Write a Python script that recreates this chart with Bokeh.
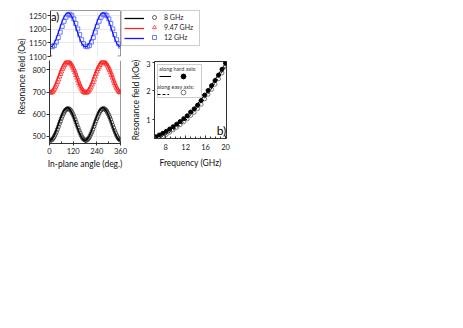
from math import pi
import numpy as np
from bokeh.plotting import figure
from bokeh.layouts import row, column
from bokeh.models import Range1d, FixedTicker, Label, Span, Legend, LegendItem
from bokeh.core.properties import value
from bokeh.embed import file_html
from bokeh.resources import INLINE

FONT = "Lato"

# ---------------- panel a data ----------------
angle_fit = [0, 10, 20, 30, 40, 50, 60, 70, 80, 90, 100, 110, 120, 130, 140, 150, 160, 170, 180,
             190, 200, 210, 220, 230, 240, 250, 260, 270, 280, 290, 300, 310, 320, 330, 340, 350, 360]
fit_8ghz = [480, 485, 498, 518, 542, 568, 592, 612, 625, 630, 625, 612, 592, 568, 542, 518, 498, 485, 480,
            485, 498, 518, 542, 568, 592, 612, 625, 630, 625, 612, 592, 568, 542, 518, 498, 485, 480]
fit_947ghz = [700, 704, 717, 736, 760, 784, 808, 827, 840, 844, 840, 827, 808, 784, 760, 736, 717, 704, 700,
              704, 717, 736, 760, 784, 808, 827, 840, 844, 840, 827, 808, 784, 760, 736, 717, 704, 700]
fit_12ghz = [1135, 1139, 1150, 1167, 1188, 1209, 1230, 1247, 1258, 1262, 1258, 1247, 1230, 1209, 1188, 1167, 1150, 1139, 1135,
             1139, 1150, 1167, 1188, 1209, 1230, 1247, 1258, 1262, 1258, 1247, 1230, 1209, 1188, 1167, 1150, 1139, 1135]

angle_pts = [0, 5, 10, 15, 20, 25, 30, 35, 40, 45, 50, 55, 60, 65, 70, 75, 80, 85, 90,
             95, 100, 105, 110, 115, 120, 125, 130, 135, 140, 145, 150, 155, 160, 165, 170, 175, 180,
             185, 190, 195, 200, 205, 210, 215, 220, 225, 230, 235, 240, 245, 250, 255, 260, 265, 270,
             275, 280, 285, 290, 295, 300, 305, 310, 315, 320, 325, 330, 335, 340, 345, 350, 355, 360]
pts_8ghz = [482, 481, 483, 486, 492, 500, 509, 519, 531, 543, 556, 568, 580, 591, 601, 610, 617, 621, 624,
            625, 623, 620, 614, 606, 597, 587, 575, 563, 550, 538, 526, 515, 505, 496, 489, 485, 482,
            481, 483, 487, 492, 500, 510, 519, 531, 544, 556, 568, 580, 590, 601, 610, 617, 622, 624,
            625, 623, 619, 614, 606, 597, 587, 576, 563, 550, 538, 526, 515, 505, 496, 489, 485, 482]
pts_947ghz = [698, 697, 699, 702, 708, 715, 724, 734, 745, 757, 770, 782, 793, 804, 814, 822, 829, 834, 836,
              837, 835, 832, 826, 819, 810, 800, 789, 777, 765, 752, 741, 730, 720, 712, 705, 700, 698,
              697, 699, 702, 708, 715, 724, 734, 745, 757, 770, 782, 793, 804, 814, 822, 829, 834, 836,
              837, 835, 832, 826, 819, 810, 800, 789, 777, 765, 752, 741, 730, 720, 712, 705, 700, 698]
angle_sq = [0, 10, 20, 30, 40, 50, 60, 70, 80, 90, 100, 110, 120, 130, 140, 150, 160, 170, 180,
            190, 200, 210, 220, 230, 240, 250, 260, 270, 280, 290, 300, 310, 320, 330, 340, 350, 360]
pts_12ghz = [1138, 1136, 1141, 1153, 1170, 1190, 1211, 1230, 1245, 1254, 1256, 1251, 1239, 1222, 1202, 1181, 1162, 1147, 1138,
             1136, 1141, 1153, 1170, 1190, 1211, 1230, 1245, 1254, 1256, 1251, 1239, 1222, 1202, 1181, 1162, 1147, 1138]

legend_labels = ["8 GHz", "9.47 GHz", "12 GHz"]
ticks_a_x = [0, 120, 240, 360]
minor_a_x = [60, 180, 300]
ticks_a_top = [1100, 1150, 1200, 1250]
ticks_a_bot = [500, 600, 700, 800]

# ---------------- panel b data ----------------
freq_pts = [6.0, 6.7, 7.4, 8.1, 8.8, 9.5, 10.2, 10.9, 11.6, 12.3, 13.0, 13.7, 14.4, 15.1, 15.8,
            16.5, 17.2, 17.9, 18.6, 19.3, 20.0]
hard_pts = [0.40, 0.46, 0.52, 0.59, 0.67, 0.75, 0.84, 0.93, 1.03, 1.13, 1.26, 1.37, 1.50, 1.66, 1.85,
            2.01, 2.18, 2.36, 2.55, 2.75, 2.96]
easy_pts = [0.29, 0.35, 0.41, 0.48, 0.56, 0.64, 0.73, 0.82, 0.92, 1.02, 1.14, 1.25, 1.38, 1.53, 1.72,
            1.88, 2.05, 2.23, 2.42, 2.62, 2.84]
freq_fit = [6, 7, 8, 9, 10, 11, 12, 13, 14, 15, 16, 17, 18, 19, 20]
hard_fit = [0.40, 0.49, 0.58, 0.69, 0.80, 0.93, 1.08, 1.27, 1.47, 1.68, 1.90, 2.15, 2.42, 2.69, 2.96]
easy_fit = [0.29, 0.38, 0.47, 0.58, 0.69, 0.82, 0.97, 1.15, 1.35, 1.56, 1.78, 2.03, 2.30, 2.57, 2.84]
ticks_b_x = [8, 12, 16, 20]
minor_b_x = [6, 7, 9, 10, 11, 13, 14, 15, 17, 18, 19]
ticks_b_y = [1, 2, 3]
minor_b_y = [0.5, 1.5, 2.5]

AX = "#333333"
GRID = "#e4e4e4"
BLACK = "#000000"
RED_L = "#ff1f1f"
RED_M = "#ff2a2a"
BLUE_L = "#1414ff"
BLUE_M = "#4a5cff"
NAN = np.array([np.nan])  # legend-only renderers: one hidden row so the legend glyph is drawn


def base_fig(**kw):
    p = figure(output_backend="svg", toolbar_location=None, **kw)
    p.outline_line_color = None
    p.background_fill_color = "white"
    p.border_fill_color = "white"
    return p


def style_axis(ax):
    ax.axis_line_color = AX
    ax.axis_line_width = 1
    ax.major_tick_line_color = AX
    ax.minor_tick_line_color = AX
    ax.major_label_text_font = FONT
    ax.major_label_text_font_size = "7.5px"
    ax.major_label_text_color = "#222222"
    ax.axis_label_text_font = FONT
    ax.axis_label_text_font_size = "8.5px"
    ax.axis_label_text_font_style = "normal"
    ax.axis_label_text_color = "#111111"


# ---------------- y label for panel a ----------------
p_lab = base_fig(width=26, height=172, x_range=Range1d(0, 26), y_range=Range1d(0, 172),
                 x_axis_location=None, y_axis_location=None, min_border=0)
p_lab.xgrid.visible = False
p_lab.ygrid.visible = False
p_lab.add_layout(Label(x=21.5, y=96, text="Resonance field (Oe)", angle=pi / 2,
                       text_align="center", text_baseline="middle", text_font=FONT,
                       text_font_size="8.5px", text_color="#111111"))

# ---------------- panel a, upper segment ----------------
p_top = base_fig(width=95, height=60, x_range=Range1d(0, 360), y_range=Range1d(1100, 1270),
                 x_axis_location=None, min_border_left=23, min_border_right=1,
                 min_border_top=10, min_border_bottom=4)
p_top.xgrid.ticker = FixedTicker(ticks=[120, 240])
for g in (p_top.xgrid, p_top.ygrid):
    g.grid_line_color = GRID
    g.grid_line_width = 0.8
ya = p_top.yaxis[0]
ya.ticker = FixedTicker(ticks=ticks_a_top)
style_axis(ya)
ya.major_tick_out = 3
ya.major_tick_in = 0
ya.major_label_standoff = 1

p_top.scatter(angle_sq, pts_12ghz, marker="square", size=4, fill_color=None,
              line_color=BLUE_M, line_width=0.8)
p_top.line(angle_fit, fit_12ghz, line_color=BLUE_L, line_width=1.2)

p_top.add_layout(Span(location=1270, dimension="width", line_color=AX, line_width=1))
p_top.add_layout(Span(location=360, dimension="height", line_color=AX, line_width=1))
p_top.add_layout(Label(x=0, y=1100, text="≈", angle=1.2, text_align="center",
                       text_baseline="middle", text_font_size="8px", text_color=AX))
p_top.add_layout(Label(x=350, y=1100, text="≈", angle=1.2, text_align="center",
                       text_baseline="middle", text_font_size="7px", text_color=AX))
p_top.add_layout(Label(x=3, y=1271, text="a)", text_baseline="top", text_font=FONT,
                       text_font_size="11px", text_color="black"))

# ---------------- legend for panel a ----------------
p_leg = base_fig(width=79, height=60, x_range=Range1d(0, 1), y_range=Range1d(0, 1),
                 x_axis_location=None, y_axis_location=None, min_border_left=0,
                 min_border_right=0, min_border_top=10, min_border_bottom=4)
p_leg.xgrid.visible = False
p_leg.ygrid.visible = False
lg_l8 = p_leg.line(x=NAN, y=NAN, line_color=BLACK, line_width=1.3)
lg_l9 = p_leg.line(x=NAN, y=NAN, line_color=RED_L, line_width=1.3)
lg_l12 = p_leg.line(x=NAN, y=NAN, line_color=BLUE_L, line_width=1.3)
lg_m8 = p_leg.scatter(x=NAN, y=NAN, marker="circle", fill_color=None, line_color="#333333", line_width=0.8)
lg_m9 = p_leg.scatter(x=NAN, y=NAN, marker="triangle", fill_color=None, line_color=RED_M, line_width=0.8)
lg_m12 = p_leg.scatter(x=NAN, y=NAN, marker="square", fill_color=None, line_color=BLUE_M, line_width=0.8)

legL = Legend(items=[LegendItem(label=value(" "), renderers=[r]) for r in (lg_l8, lg_l9, lg_l12)],
              location="top_left", glyph_width=20, glyph_height=10, label_height=10, label_width=53,
              label_standoff=0, spacing=0, padding=2, margin=0,
              border_line_color="#999999", border_line_width=1,
              background_fill_color="white", background_fill_alpha=1,
              label_text_font=FONT, label_text_font_size="7px")
legM = Legend(items=[LegendItem(label=value(t), renderers=[r])
                     for t, r in zip(legend_labels, (lg_m8, lg_m9, lg_m12))],
              location="top_right", glyph_width=10, glyph_height=10, label_height=10, label_width=34,
              label_standoff=5, spacing=0, padding=0, margin=2,
              border_line_color=None, background_fill_alpha=0,
              label_text_font=FONT, label_text_font_size="7px", label_text_color="#222222")
p_leg.add_layout(legL)
p_leg.add_layout(legM)

# ---------------- panel a, lower segment ----------------
p_bot = base_fig(width=102, height=112, x_range=Range1d(0, 360), y_range=Range1d(467, 843),
                 min_border_left=23, min_border_right=8, min_border_top=0, min_border_bottom=29)
for g in (p_bot.xgrid, p_bot.ygrid):
    g.grid_line_color = GRID
    g.grid_line_width = 0.8
xa = p_bot.xaxis[0]
xa.ticker = FixedTicker(ticks=ticks_a_x, minor_ticks=minor_a_x)
style_axis(xa)
xa.major_tick_in = 2
xa.major_tick_out = 2
xa.minor_tick_in = 2
xa.minor_tick_out = 0
xa.major_label_standoff = 2
xa.axis_label = "In-plane angle (deg.)"
xa.axis_label_standoff = 2
yb = p_bot.yaxis[0]
yb.ticker = FixedTicker(ticks=ticks_a_bot)
style_axis(yb)
yb.major_tick_out = 3
yb.major_tick_in = 0
yb.major_label_standoff = 1

p_bot.line(angle_fit, fit_947ghz, line_color=RED_L, line_width=1.5)
p_bot.scatter(angle_pts, pts_947ghz, marker="triangle", size=5, fill_color=None,
              line_color=RED_M, line_width=0.8)
p_bot.scatter(angle_pts, pts_8ghz, marker="circle", size=4, fill_color=None,
              line_color="#333333", line_width=0.8)
p_bot.line(angle_fit, fit_8ghz, line_color=BLACK, line_width=1.5)
p_bot.add_layout(Span(location=360, dimension="height", line_color=AX, line_width=1))

# ---------------- panel b ----------------
p_b = base_fig(width=106, height=112, x_range=Range1d(5.75, 20.2), y_range=Range1d(0.34, 3.02),
               min_border_left=21, min_border_right=8, min_border_top=1, min_border_bottom=34)
p_b.outline_line_color = AX
p_b.xgrid.visible = False
p_b.ygrid.visible = False
xbx = p_b.xaxis[0]
xbx.ticker = FixedTicker(ticks=ticks_b_x, minor_ticks=minor_b_x)
style_axis(xbx)
xbx.major_tick_in = 3
xbx.major_tick_out = 0
xbx.minor_tick_in = 2
xbx.minor_tick_out = 0
xbx.major_label_standoff = 5
xbx.axis_label = "Frequency (GHz)"
xbx.axis_label_standoff = 5
yby = p_b.yaxis[0]
yby.ticker = FixedTicker(ticks=ticks_b_y, minor_ticks=minor_b_y)
style_axis(yby)
yby.major_tick_out = 2
yby.major_tick_in = 0
yby.minor_tick_out = 0
yby.minor_tick_in = 0
yby.major_label_standoff = 2
yby.axis_label = "Resonance field (kOe)"
yby.axis_label_standoff = 2

r_easy_line = p_b.line(freq_fit, easy_fit, line_color=BLACK, line_width=1, line_dash="3 2")
r_hard_line = p_b.line(freq_fit, hard_fit, line_color=BLACK, line_width=1)
r_easy_pts = p_b.scatter(freq_pts, easy_pts, marker="circle", size=4, fill_color=None,
                         line_color="#555555", line_width=0.8)
r_hard_pts = p_b.scatter(freq_pts, hard_pts, marker="circle", size=4, fill_color=BLACK,
                         line_color=BLACK)
r_blank = p_b.line(x=NAN, y=NAN, line_alpha=0)

common_b = dict(margin=0, label_text_font=FONT, label_text_font_size="5.5px",
                title_text_font=FONT, title_text_font_size="5.5px",
                title_text_font_style="normal", title_text_color="#333333", title_standoff=0)
legA = Legend(title="along hard axis:",
              items=[LegendItem(label=value(" "), renderers=[r_hard_line]),
                     LegendItem(label=value(" "), renderers=[r_blank]),
                     LegendItem(label=value(" "), renderers=[r_blank])],
              location=(3, 40), glyph_width=12, glyph_height=8, label_height=8, label_width=27,
              label_standoff=2, spacing=0, padding=1,
              border_line_color="#999999", border_line_width=1,
              background_fill_color="white", background_fill_alpha=1, **common_b)
legB = Legend(title="along easy axis:",
              items=[LegendItem(label=value(" "), renderers=[r_easy_line])],
              location=(3, 40), glyph_width=12, glyph_height=8, label_height=8, label_width=0,
              label_standoff=0, spacing=0, padding=1,
              border_line_color=None, background_fill_alpha=0, **common_b)
legC = Legend(items=[LegendItem(label=value(" "), renderers=[r_hard_pts])],
              location=(23, 56), glyph_width=12, glyph_height=12, label_height=8, label_width=0,
              label_standoff=0, spacing=0, padding=0,
              border_line_color=None, background_fill_alpha=0, **common_b)
legD = Legend(items=[LegendItem(label=value(" "), renderers=[r_easy_pts])],
              location=(23, 40), glyph_width=12, glyph_height=12, label_height=8, label_width=0,
              label_standoff=0, spacing=0, padding=0,
              border_line_color=None, background_fill_alpha=0, **common_b)
for lg in (legA, legB, legC, legD):
    p_b.add_layout(lg)

p_b.add_layout(Label(x=20.15, y=0.36, text="b)", text_align="right", text_baseline="bottom",
                     text_font=FONT, text_font_size="12px", text_color="black"))

layout = row(p_lab, column(row(p_top, p_leg), row(p_bot, column(p_b))))

open("out.html", "w").write(file_html(layout, INLINE))
